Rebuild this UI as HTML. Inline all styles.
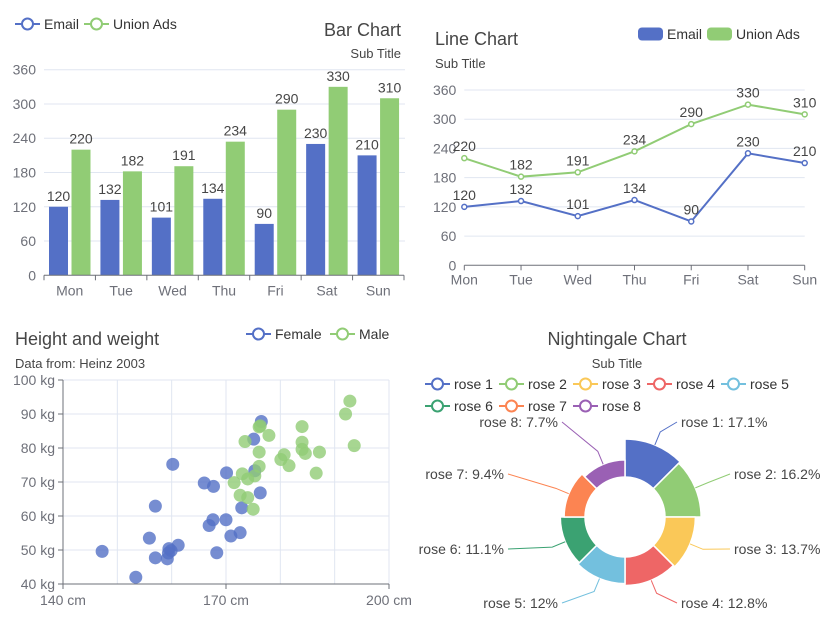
<!DOCTYPE html>
<html><head><meta charset="utf-8">
<style>
html,body{margin:0;padding:0;background:#fff}
svg{display:block;font-family:"Liberation Sans",sans-serif}
</style></head>
<body>
<svg id="c" width="830" height="630" viewBox="0 0 830 630"></svg>
<script>
const days=['Mon','Tue','Wed','Thu','Fri','Sat','Sun'];
const emailVals=[120,132,101,134,90,230,210];
const unionVals=[220,182,191,234,290,330,310];
const yTicks=[0,60,120,180,240,300,360];
const femaleH=[147.2,153.4,155.9,157,157,159.2,159.5,159.9,159.4,161.2,160.2,166,167.7,166.9,167.6,168.3,170.1,170,170.9,172.6,172.9,175.1,175.3,176.5,176.3];
const femaleW=[49.6,42,53.5,62.9,47.7,47.4,50.4,49.8,49.1,51.4,75.2,69.7,68.7,57.2,58.9,49.2,72.7,58.9,54.1,55.1,62.4,82.6,73.3,87.8,66.8];
const maleH=[171.5,172.6,174,175,173,174,175.3,173.5,176.1,176.3,176.1,176.1,177.9,180.1,180.7,181.6,184,184,184,184.6,187.2,186.6,192,192.8,193.6];
const maleW=[69.8,66.1,65.4,62,72.4,70.9,71.8,81.9,86.2,86.5,78.8,74.6,83.7,76.6,78,74.8,86.3,81.7,79.6,78.4,78.8,72.6,90,93.8,80.7];
const wTicks=[40,50,60,70,80,90,100];
const hTicks=[140,170,200];
const hGrid=[140,150,160,170,180,190,200];
const roseNames=['rose 1','rose 2','rose 3','rose 4','rose 5','rose 6','rose 7','rose 8'];
const roseVals=[40,38,32,30,28,26,22,18];

const NS='http://www.w3.org/2000/svg';
const svg=document.getElementById('c');
function el(tag,attrs,parent,text){const e=document.createElementNS(NS,tag);for(const k in attrs)e.setAttribute(k,attrs[k]);if(text!==undefined)e.textContent=text;(parent||svg).appendChild(e);return e;}
const C=['#5470c6','#91cc75','#fac858','#ee6666','#73c0de','#3ba272','#fc8452','#9a60b4'];
const AX='#6e7079',GR='#e0e6f1',TX='#464646';

function legendCircle(x,y,color,label,name){
  const g=el('g',{});
  
  
  el('line',{x1:x,y1:y,x2:x+25,y2:y,stroke:color,'stroke-width':2},g);
  el('circle',{cx:x+12.5,cy:y,r:5.5,fill:'#fff',stroke:color,'stroke-width':2},g);
  el('text',{x:x+29,y:y+5,'font-size':14,fill:'#333'},g,label);
}
function legendRect(x,y,color,label,name){
  const g=el('g',{});
  
  
  el('rect',{x:x,y:y-6.5,width:25,height:13,rx:4,fill:color},g);
  el('text',{x:x+29,y:y+5,'font-size':14,fill:'#333'},g,label);
}

// ===== Bar chart =====
(function(){
  const g=el('g',{});
  
  
  const x0=44,x1=404,yB=275.3,yT=69.7;
  const ys=v=>yB-(v/360)*(yB-yT);
  const bw=(x1-x0)/days.length;
  yTicks.forEach(t=>{
    if(t>0){const l=el('line',{x1:x0,x2:x1+1,y1:ys(t),y2:ys(t),stroke:GR},g);}
    const tx=el('text',{x:x0-8,y:ys(t)+5,'text-anchor':'end','font-size':14,fill:AX},g,t);
    
  });
  days.forEach((d,i)=>{
    const bx=x0+i*bw;
    [[emailVals[i],C[0],5,'bar-email'],[unionVals[i],C[1],27.5,'bar-union-ads']].forEach(([v,col,off,nm])=>{
      const r=el('rect',{x:bx+off,y:ys(v),width:19,height:yB-ys(v),fill:col},g);
      
      const t=el('text',{x:bx+off+9.5,y:ys(v)-6,'text-anchor':'middle','font-size':14,fill:TX},g,v);
      
    });
    const t=el('text',{x:bx+bw/2,y:yB+20,'text-anchor':'middle','font-size':14,fill:AX},g,d);
    
    el('line',{x1:bx,x2:bx,y1:yB,y2:yB+5,stroke:AX},g);
  });
  el('line',{x1:x1,x2:x1,y1:yB,y2:yB+5,stroke:AX},g);
  const ax=el('line',{x1:x0,x2:x1,y1:yB,y2:yB,stroke:AX},g);
  
  const tt=el('text',{x:401,y:36,'text-anchor':'end','font-size':18,fill:'#464646'},g,'Bar Chart');
  
  const st=el('text',{x:401,y:58,'text-anchor':'end','font-size':13,fill:'#464646'},g,'Sub Title');
  
  legendCircle(15,24,C[0],'Email','legend-email');
  legendCircle(84,24,C[1],'Union Ads','legend-union-ads');
})();

// ===== Line chart =====
(function(){
  const g=el('g',{});
  
  
  const x0=464.3,x1=804.7,yB=265.3,yT=90;
  const ys=v=>yB-(v/360)*(yB-yT);
  const xs=i=>x0+i*(x1-x0)/(days.length-1);
  yTicks.forEach(t=>{
    if(t>0){const l=el('line',{x1:x0,x2:x1,y1:ys(t),y2:ys(t),stroke:GR},g);}
    const tx=el('text',{x:x0-8,y:ys(t)+5,'text-anchor':'end','font-size':14,fill:AX},g,t);
    
  });
  const ax=el('line',{x1:x0,x2:x1,y1:yB,y2:yB,stroke:AX},g);
  
  days.forEach((d,i)=>{
    el('line',{x1:xs(i),x2:xs(i),y1:yB,y2:yB+5,stroke:AX},g);
    const t=el('text',{x:xs(i),y:yB+19,'text-anchor':'middle','font-size':14,fill:AX},g,d);
    
  });
  [[emailVals,C[0],'line-email'],[unionVals,C[1],'line-union-ads']].forEach(([vals,col,nm])=>{
    const p=el('polyline',{points:vals.map((v,i)=>xs(i)+','+ys(v)).join(' '),fill:'none',stroke:col,'stroke-width':2},g);
    
    vals.forEach((v,i)=>{
      const c=el('circle',{cx:xs(i),cy:ys(v),r:2.5,fill:'#fff',stroke:col,'stroke-width':1.5},g);
      
      const t=el('text',{x:xs(i),y:ys(v)-7,'text-anchor':'middle','font-size':14,fill:TX},g,v);
      
    });
  });
  const tt=el('text',{x:435,y:45,'font-size':18,fill:'#464646'},g,'Line Chart');
  
  const st=el('text',{x:435,y:68,'font-size':13,fill:'#464646'},g,'Sub Title');
  
  legendRect(638,34,C[0],'Email','legend-email');
  legendRect(707,34,C[1],'Union Ads','legend-union-ads');
})();

// ===== Scatter =====
(function(){
  const g=el('g',{});
  
  
  const x0=63,x1=389,yB=584,yT=380;
  const xs=h=>x0+(h-140)/60*(x1-x0);
  const ys=w=>yB-(w-40)/60*(yB-yT);
  hGrid.forEach(h=>{if(h>140){const l=el('line',{x1:xs(h),x2:xs(h),y1:yT,y2:yB,stroke:GR},g);}});
  wTicks.forEach(w=>{
    if(w>40){const l=el('line',{x1:x0,x2:x1,y1:ys(w),y2:ys(w),stroke:GR},g);}
    el('line',{x1:x0-5,x2:x0,y1:ys(w),y2:ys(w),stroke:AX},g);
    const t=el('text',{x:x0-8,y:ys(w)+5,'text-anchor':'end','font-size':14,fill:AX},g,w+' kg');
    
  });
  hTicks.forEach(h=>{
    el('line',{x1:xs(h),x2:xs(h),y1:yB,y2:yB+5,stroke:AX},g);
    const t=el('text',{x:xs(h),y:yB+21,'text-anchor':'middle','font-size':14,fill:AX},g,h+' cm');
    
  });
  const ya=el('line',{x1:x0,x2:x0,y1:yT,y2:yB,stroke:AX},g);
  
  const xa=el('line',{x1:x0,x2:x1,y1:yB,y2:yB,stroke:AX},g);
  
  femaleH.forEach((h,i)=>{
    const c=el('circle',{cx:xs(h),cy:ys(femaleW[i]),r:6.5,fill:C[0],'fill-opacity':0.8},g);
    
  });
  maleH.forEach((h,i)=>{
    const c=el('circle',{cx:xs(h),cy:ys(maleW[i]),r:6.5,fill:C[1],'fill-opacity':0.8},g);
    
  });
  const tt=el('text',{x:15,y:345,'font-size':18,fill:'#464646'},g,'Height and weight');
  
  const st=el('text',{x:15,y:368,'font-size':13,fill:'#464646'},g,'Data from: Heinz 2003');
  
  legendCircle(246,334,C[0],'Female','legend-female');
  legendCircle(330,334,C[1],'Male','legend-male');
})();

// ===== Nightingale =====
(function(){
  const g=el('g',{});
  
  
  const cx=625,cy=517,r0=40,r1=78;
  const total=roseVals.reduce((a,b)=>a+b,0);
  const vmax=Math.max(...roseVals);
  const n=roseVals.length;
  const pt=(a,r)=>[cx+r*Math.sin(a),cy-r*Math.cos(a)];
  const labelPos=[[681,427,'start'],[734,479,'start'],[734,554,'start'],[681,608,'start'],[558,608,'end'],[504,554,'end'],[504,479,'end'],[558,427,'end']];
  roseVals.forEach((v,i)=>{
    const a0=i*2*Math.PI/n,a1=(i+1)*2*Math.PI/n;
    const R=r0+(v/vmax)*(r1-r0);
    const p1=pt(a0,r0),p2=pt(a0,R),p3=pt(a1,R),p4=pt(a1,r0);
    const d=`M${p1} L${p2} A${R},${R} 0 0 1 ${p3} L${p4} A${r0},${r0} 0 0 0 ${p1}Z`;
    const s=el('path',{d:d,fill:C[i],stroke:'#fff','stroke-width':1.5,'stroke-linejoin':'round'},g);
    
    const am=(a0+a1)/2;
    const pa=pt(am,R),pb=pt(am,R+14);
    const [lx,ly,anc]=labelPos[i];
    const ex=anc==='start'?lx-4:lx+4;
    const ll=el('polyline',{points:`${pa} ${pb} ${ex},${ly-5}`,fill:'none',stroke:C[i],'stroke-width':1},g);
    
    const pct=Math.round(v/total*1000)/10;
    const t=el('text',{x:lx,y:ly,'text-anchor':anc,'font-size':14,fill:TX},g,roseNames[i]+': '+pct+'%');
    
  });
  const tt=el('text',{x:617,y:345,'text-anchor':'middle','font-size':18,fill:'#464646'},g,'Nightingale Chart');
  
  const st=el('text',{x:617,y:368,'text-anchor':'middle','font-size':13,fill:'#464646'},g,'Sub Title');
  
  const lx=[425,499,573,647,721,425,499,573];
  const ly=[384,384,384,384,384,406,406,406];
  roseNames.forEach((nm,i)=>legendCircle(lx[i],ly[i],C[i],nm,'legend-'+nm.replace(' ','-')));
})();
</script>
</body></html>
